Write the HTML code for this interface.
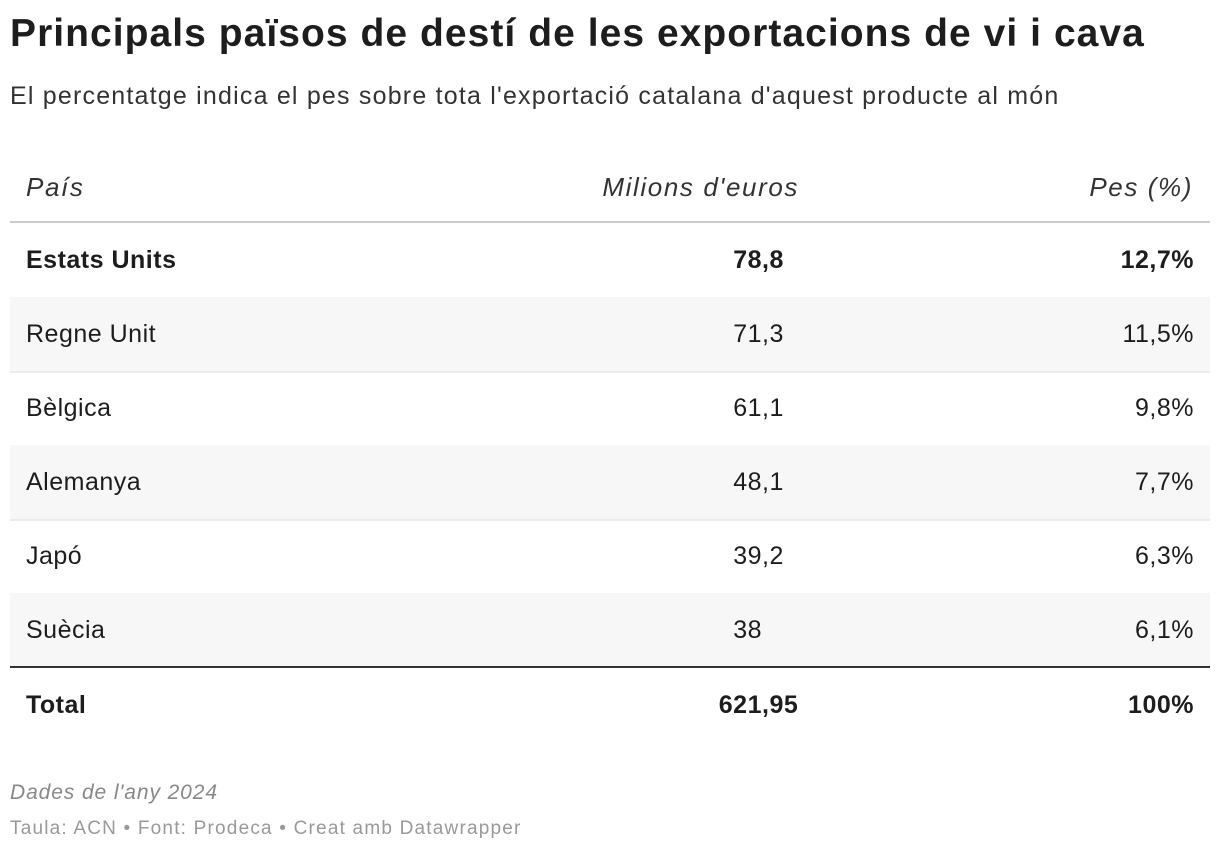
<!DOCTYPE html>
<html><head><meta charset="utf-8">
<style>
body{margin:0;width:1220px;height:854px;background:#fff;font-family:"Liberation Sans",Arial,sans-serif;color:#1d1d1d;position:relative;overflow:hidden}
.a{position:absolute;white-space:nowrap}
#title{left:10px;top:12px;font-size:39px;font-weight:bold;color:#1d1d1d;letter-spacing:1.05px}
#sub{left:10px;top:82px;font-size:25px;color:#333;letter-spacing:1.2px}
.hd{top:172px;font-size:26px;font-style:italic;color:#333;letter-spacing:1.6px}
.cell{font-size:25px;letter-spacing:0.5px}
.row{position:absolute;left:10px;width:1200px;height:74px}
#note{left:10px;top:781px;font-size:21px;font-style:italic;color:#888;letter-spacing:0.9px}
#src{left:10px;top:818px;font-size:19px;color:#999;letter-spacing:1.2px}
</style></head><body>
<div class="a" id="title">Principals països de destí de les exportacions de vi i cava</div>
<div class="a" id="sub">El percentatge indica el pes sobre tota l'exportació catalana d'aquest producte al món</div>
<div class="a hd" style="left:26px">País</div>
<div class="a hd" style="right:421px">Milions d'euros</div>
<div class="a hd" style="right:27px">Pes (%)</div>
<div class="a" style="left:10px;top:221px;width:1200px;height:2px;background:#ccc"></div>
<div id="tbl"></div>
<div class="a" id="note">Dades de l'any 2024</div>
<div class="a" id="src">Taula: ACN • Font: Prodeca • Creat amb Datawrapper</div>
<script>
const countries=["Estats Units","Regne Unit","Bèlgica","Alemanya","Japó","Suècia","Total"];
const millions=["78,8","71,3","61,1","48,1","39,2","38","621,95"];
const shares=["12,7%","11,5%","9,8%","7,7%","6,3%","6,1%","100%"];
const tbl=document.getElementById('tbl');
countries.forEach((c,i)=>{
  const top=223+i*74;
  const bold=(i===0||i===countries.length-1);
  const r=document.createElement('div');
  r.className='row';
  
  
  r.style.top=top+'px';
  if(i%2===1&&i<6)r.style.background='#f7f7f7';
  if(i<5)r.style.borderBottom='2px solid #ececec';
  if(i===6){r.style.top=(top-1)+'px';r.style.borderTop='2px solid #333';}
  const fw=bold?'bold':'normal';
  const name=document.createElement('div');
  name.className='a cell';
  
  
  name.style.cssText='left:16px;top:23px;font-weight:'+fw;
  name.textContent=c;
  r.appendChild(name);
  const parts=millions[i].split(',');
  const ip=document.createElement('div');
  ip.className='a cell';
  
  
  ip.style.cssText='right:'+(1200-752)+'px;top:23px;font-weight:'+fw;
  ip.textContent=parts[0];
  r.appendChild(ip);
  if(parts[1]){
    const dp=document.createElement('div');
    dp.className='a cell';
    
    
    dp.style.cssText='left:752px;top:23px;font-weight:'+fw;
    dp.textContent=','+parts[1];
    r.appendChild(dp);
  }
  const s=document.createElement('div');
  s.className='a cell';
  
  
  s.style.cssText='right:16px;top:23px;font-weight:'+fw;
  s.textContent=shares[i];
  r.appendChild(s);
  tbl.appendChild(r);
});
</script>
</body></html>
